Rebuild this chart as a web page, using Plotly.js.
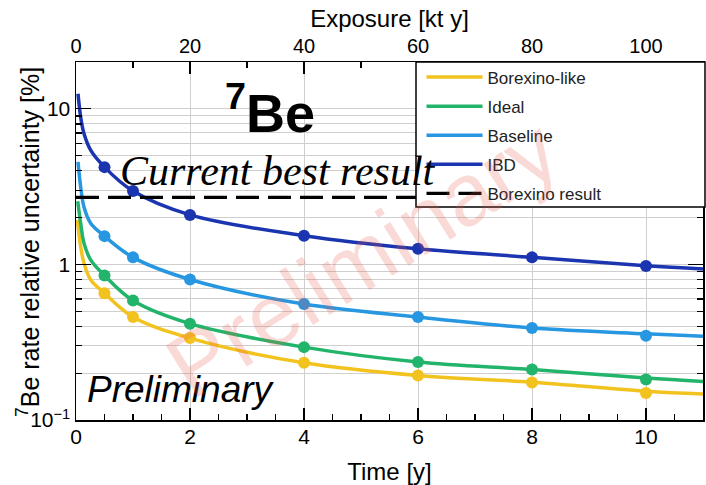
<!DOCTYPE html>
<html>
<head>
<meta charset="utf-8">
<script src="https://cdn.plot.ly/plotly-3.0.1.min.js"></script>
<style>html,body{margin:0;padding:0;background:#fff;}#chart{width:706px;height:485px;}</style>
</head>
<body>
<div id="chart"></div>
<script>
// ---- data ----
const seriesNames = ["Borexino-like", "Ideal", "Baseline", "IBD"];
const seriesColors = ["#F2C31F", "#22B46A", "#2697E0", "#1B35B0"];

// curve samples (time [y], uncertainty [%])
const tBxLike = [0.023, 0.082, 0.14, 0.257, 0.5, 1, 2, 4, 6, 8, 10, 11];
const uBxLike = [1.93, 1.30, 1.02, 0.796, 0.653, 0.459, 0.336, 0.233, 0.193, 0.175, 0.153, 0.147];
const tIdeal = [0.03, 0.082, 0.14, 0.257, 0.5, 1, 2, 4, 6, 8, 10, 11];
const uIdeal = [2.55, 1.84, 1.37, 1.07, 0.85, 0.586, 0.416, 0.294, 0.236, 0.211, 0.186, 0.177];
const tBase = [0.035, 0.082, 0.14, 0.257, 0.5, 1, 2, 4, 6, 8, 10, 11];
const uBase = [4.56, 3.15, 2.34, 1.84, 1.52, 1.11, 0.80, 0.556, 0.459, 0.390, 0.358, 0.345];
const tIBD = [0.035, 0.082, 0.14, 0.257, 0.5, 1, 2, 4, 6, 8, 10, 11];
const uIBD = [12.5, 8.86, 6.93, 5.42, 4.22, 2.96, 2.08, 1.53, 1.26, 1.11, 0.98, 0.935];

// simulated points
const markTime = [0.5, 1, 2, 4, 6, 8, 10];
const mBxLike = [0.653, 0.459, 0.336, 0.233, 0.193, 0.174, 0.149];
const mIdeal = [0.85, 0.586, 0.416, 0.294, 0.236, 0.211, 0.182];
const mBase = [1.52, 1.11, 0.80, 0.556, 0.459, 0.390, 0.348];
const mIBD = [4.22, 2.96, 2.08, 1.53, 1.26, 1.11, 0.977];

// Borexino result
const borexinoExposure = [0, 110];
const borexinoValue = [2.7, 2.7];

// axis ticks
const timeTicks = [0, 2, 4, 6, 8, 10];
const exposureTicks = [0, 20, 40, 60, 80, 100];
const yTickVals = [0.1, 1, 10];
const yTickText = ["10<sup>\u22121</sup>", "1", "10"];

// ---- build ----
const curveT = [tBxLike, tIdeal, tBase, tIBD];
const curveU = [uBxLike, uIdeal, uBase, uIBD];
const markU = [mBxLike, mIdeal, mBase, mIBD];

const traces = [];
for (let i = 0; i < 4; i++) {
  traces.push({
    type: "scatter", mode: "lines", name: seriesNames[i],
    x: curveT[i], y: curveU[i], xaxis: "x", yaxis: "y",
    line: {color: seriesColors[i], width: 3.5, shape: "spline", smoothing: 1},
    legendgroup: "g" + i, hoverinfo: "skip"
  });
}
for (let i = 0; i < 4; i++) {
  traces.push({
    type: "scatter", mode: "markers", showlegend: false,
    x: markTime, y: markU[i], xaxis: "x", yaxis: "y",
    marker: {color: seriesColors[i], size: 12},
    legendgroup: "g" + i, hoverinfo: "skip"
  });
}
traces.push({
  type: "scatter", mode: "lines", name: "Borexino result",
  x: borexinoExposure, y: borexinoValue, xaxis: "x2", yaxis: "y",
  line: {color: "#000", width: 3.2, dash: "23px,9px"},
  legendgroup: "g4", hoverinfo: "skip"
});

// minor y ticks/grid (2..9 per decade)
const yMinor = [];
for (let d = -1; d <= 1; d++) for (let k = 2; k <= 9; k++) {
  const v = k * Math.pow(10, d);
  if (v < 20) yMinor.push(v);
}

const FONT = "Liberation Sans, Arial, Helvetica, sans-serif";
const plotL = 76, plotR = 703, plotT = 62, plotB = 420;
const W = plotR - plotL, H = plotB - plotT;
const px = (x) => (x - plotL) / W;
const py = (y) => (plotB - y) / H;

const layout = {
  width: 706, height: 485,
  margin: {l: plotL, r: 706 - plotR, t: plotT, b: 485 - plotB, pad: 0},
  paper_bgcolor: "#fff", plot_bgcolor: "#fff",
  font: {family: FONT, color: "#000"},
  showlegend: true,
  xaxis: {
    range: [0, 11], tickvals: timeTicks, ticks: "inside", ticklen: 12, tickwidth: 1.2, tickcolor: "#000",
    showline: true, linecolor: "#000", linewidth: 1.5, mirror: false,
    showgrid: true, gridcolor: "#cfcfcf", gridwidth: 1, zeroline: false,
    tickfont: {size: 21, family: FONT}, ticklabelstandoff: -3,
    minor: {dtick: 0.5, ticks: "inside", ticklen: 6, tickcolor: "#000", tickwidth: 1.2, showgrid: false},
    title: {text: "Time [y]", font: {size: 24, family: FONT}, standoff: 16},
    automargin: false
  },
  xaxis2: {
    overlaying: "x", side: "top", anchor: "y",
    range: [0, 110], tickvals: exposureTicks, ticks: "inside", ticklen: 12, tickwidth: 1.2, tickcolor: "#000",
    showline: true, linecolor: "#000", linewidth: 1.5,
    showgrid: false, zeroline: false,
    tickfont: {size: 20, family: FONT},
    minor: {dtick: 10, ticks: "inside", ticklen: 6, tickcolor: "#000", tickwidth: 1.2, showgrid: false},
    title: {text: "Exposure [kt y]", font: {size: 24, family: FONT}, standoff: 0},
    automargin: false
  },
  yaxis: {
    type: "log", range: [-1, Math.log10(20)],
    tickmode: "array", tickvals: yTickVals, ticktext: yTickText,
    ticks: "inside", ticklen: 15, tickwidth: 1.2, tickcolor: "#000",
    showline: true, linecolor: "#000", linewidth: 1.5, mirror: "ticks",
    showgrid: true, gridcolor: "#cfcfcf", gridwidth: 1, zeroline: false,
    tickfont: {size: 21, family: FONT},
    minor: {tickmode: "array", tickvals: yMinor, ticks: "inside", ticklen: 6, tickcolor: "#000", tickwidth: 1.2,
            showgrid: true, gridcolor: "#cfcfcf", gridwidth: 1},
    automargin: false
  },
  legend: {
    x: px(421.5), y: 1.007, xanchor: "left", yanchor: "top",
    bgcolor: "rgba(0,0,0,0)", borderwidth: 0,
    font: {size: 17, family: FONT, color: "#222"},
    traceorder: "grouped", tracegroupgap: 4, itemwidth: 56
  },
  shapes: [{
    type: "rect", xref: "paper", yref: "paper", layer: "above",
    x0: px(416), x1: px(705), y0: py(207), y1: 1,
    fillcolor: "#fff", line: {color: "#000", width: 1.5}
  }],
  annotations: [
    {xref: "paper", yref: "paper", x: px(28), y: py(242), text: "<sup>7</sup>Be rate relative uncertainty [%]",
     textangle: -90, showarrow: false, font: {size: 25, family: FONT}, xanchor: "center", yanchor: "middle"},
    {xref: "paper", yref: "paper", x: px(270), y: py(109), text: "<b><sup>7</sup>Be</b>",
     showarrow: false, font: {size: 54, family: FONT}, xanchor: "center", yanchor: "middle"},
    {xref: "paper", yref: "paper", x: px(278), y: py(171), text: "<i>Current best result</i>",
     showarrow: false, font: {size: 42, family: "Liberation Serif, Times New Roman, serif"}, xanchor: "center", yanchor: "middle"},
    {xref: "paper", yref: "paper", x: px(181), y: py(389), text: "<i>Preliminary</i>",
     showarrow: false, font: {size: 37, family: FONT}, xanchor: "center", yanchor: "middle"},
    {xref: "paper", yref: "paper", x: px(362), y: py(258), text: "Preliminary", textangle: -32,
     showarrow: false, font: {size: 88, family: FONT, color: "rgba(232,85,75,0.22)"}, xanchor: "center", yanchor: "middle"}
  ]
};

Plotly.newPlot("chart", traces, layout, {displayModeBar: false, staticPlot: true});
</script>
</body>
</html>
